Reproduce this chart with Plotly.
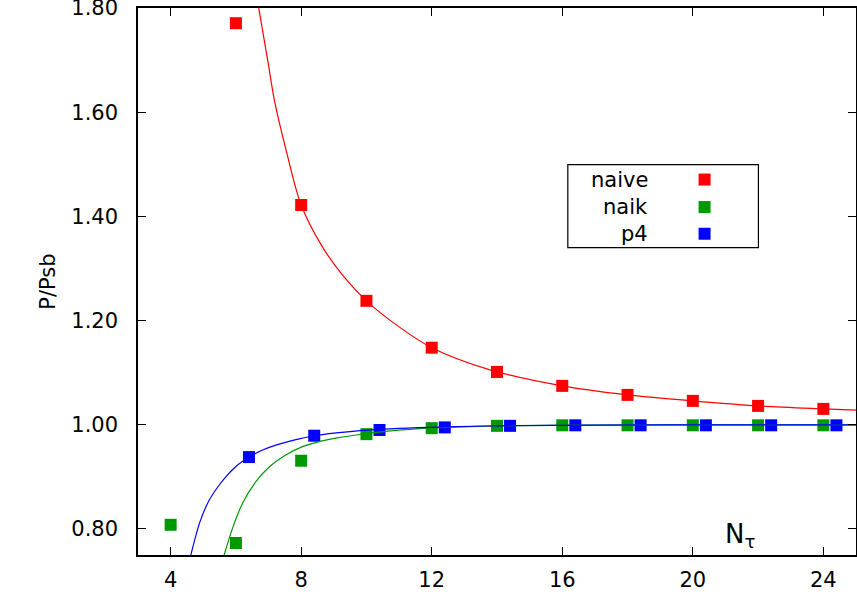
import plotly.graph_objects as go

# ---- data ----
naive_x = [6, 8, 10, 12, 14, 16, 18, 20, 22, 24]
naive_y = [1.771, 1.422, 1.238, 1.148, 1.1015, 1.0747, 1.0574, 1.0459, 1.0363, 1.0305]

naik_x = [4, 6, 8, 10, 12, 14, 16, 18, 20, 22, 24]
naik_y = [0.808, 0.773, 0.931, 0.982, 0.9935, 0.998, 0.999, 0.999, 0.999, 0.999, 0.999]

p4_x = [6.4, 8.4, 10.4, 12.4, 14.4, 16.4, 18.4, 20.4, 22.4, 24.4]
p4_y = [0.938, 0.979, 0.990, 0.995, 0.998, 0.999, 0.999, 0.999, 0.999, 0.999]

# fitted curves
naive_fit_x = [6.70, 7.0, 7.18, 7.54, 8.0, 8.65, 9.3, 10.0, 11.0, 12.0, 13.76, 16.0, 18.0, 20.0, 22.0, 24.0, 25.0]
naive_fit_y = [1.800, 1.690, 1.623, 1.527, 1.422, 1.3415, 1.285, 1.238, 1.188, 1.148, 1.106, 1.0747, 1.0574, 1.0459, 1.0363, 1.0305, 1.028]

naik_fit_x = [5.64, 5.9, 6.2, 6.6, 7.02, 7.5, 8.04, 8.86, 10.0, 11.0, 12.0, 14.0, 17.0, 20.0, 25.0]
naik_fit_y = [0.750, 0.802, 0.849, 0.890, 0.919, 0.941, 0.958, 0.972, 0.983, 0.9896, 0.994, 0.998, 0.9995, 1.000, 1.000]

p4_fit_x = [4.62, 4.9, 5.18, 5.45, 5.69, 6.0, 6.41, 6.8, 7.22, 7.94, 8.39, 9.5, 11.0, 12.4, 14.0, 17.0, 20.0, 25.0]
p4_fit_y = [0.750, 0.814, 0.855, 0.881, 0.900, 0.920, 0.938, 0.951, 0.961, 0.973, 0.979, 0.987, 0.993, 0.996, 0.998, 0.9995, 1.000, 1.000]

series_names = ["naive", "naik", "p4"]
series_colors = ["#ff0000", "#009a00", "#0000ff"]

x_ticks = [4, 8, 12, 16, 20, 24]
y_ticks = [0.80, 1.00, 1.20, 1.40, 1.60, 1.80]

FONT = "DejaVu Sans"

fig = go.Figure()

pts = [(naive_x, naive_y), (naik_x, naik_y), (p4_x, p4_y)]
fits = [(naive_fit_x, naive_fit_y), (naik_fit_x, naik_fit_y), (p4_fit_x, p4_fit_y)]

for (x, y), name, c in zip(pts, series_names, series_colors):
    fig.add_trace(go.Scatter(x=x, y=y, mode="markers", name=name,
                             marker=dict(symbol="square", size=12, color=c, line=dict(width=0)),
                             showlegend=False, cliponaxis=True))

for (x, y), name, c in zip(fits, series_names, series_colors):
    fig.add_trace(go.Scatter(x=x, y=y, mode="lines", name=name + " fit",
                             line=dict(color=c, width=1.2, shape="spline", smoothing=0.9),
                             showlegend=False, hoverinfo="skip"))

# ---- gnuplot-style key (text right-aligned, sample to the right) ----
shapes = [dict(type="rect", xref="x", yref="y", x0=16.17, x1=22.01, y0=1.3403, y1=1.4996,
               line=dict(color="black", width=1.2), fillcolor="white", layer="above")]
annotations = []
key_rows_y = [1.4708, 1.418, 1.3668]
for name, c, ry in zip(series_names, series_colors, key_rows_y):
    annotations.append(dict(x=18.69, y=ry, xref="x", yref="y", text=name, showarrow=False,
                            xanchor="right", yanchor="middle",
                            font=dict(family=FONT, size=21, color="black")))
    shapes.append(dict(type="rect", xref="x", yref="y", xsizemode="pixel", ysizemode="pixel",
                       xanchor=20.36, yanchor=ry, x0=-6, x1=6, y0=-6, y1=6,
                       fillcolor=c, line=dict(width=0), layer="above"))

annotations.append(dict(x=21.45, y=0.787, xref="x", yref="y", text="N<sub>τ</sub>",
                        showarrow=False, xanchor="center", yanchor="middle",
                        font=dict(family=FONT, size=26, color="black")))

fig.update_layout(
    width=857, height=603,
    template="none",
    margin=dict(l=138, r=1, t=8, b=48, pad=0),
    paper_bgcolor="white", plot_bgcolor="white",
    font=dict(family=FONT, size=21, color="black"),
    shapes=shapes, annotations=annotations,
    showlegend=False,
)
fig.update_xaxes(range=[3, 25], tickvals=x_ticks, ticktext=[str(v) for v in x_ticks],
                 ticks="inside", ticklen=8, tickwidth=1.2, tickcolor="black",
                 showline=True, linecolor="black", linewidth=1.5, mirror="ticks",
                 showgrid=False, zeroline=False, automargin=False,
                 ticklabelstandoff=5, tickfont=dict(family=FONT, size=21))
fig.update_yaxes(range=[0.75, 1.8002], tickvals=y_ticks, ticktext=[f"{v:.2f}" for v in y_ticks],
                 ticks="inside", ticklen=8, tickwidth=1.2, tickcolor="black",
                 showline=True, linecolor="black", linewidth=1.5, mirror="ticks",
                 showgrid=False, zeroline=False, automargin=False,
                 ticklabeloverflow="allow",
                 ticklabelstandoff=14, tickfont=dict(family=FONT, size=21),
                 title=dict(text="P/Psb", standoff=10, font=dict(family=FONT, size=21)))

fig.write_html("out.html", config={"displayModeBar": False},
               post_script="document.body.style.margin='0';document.body.style.padding='0';")
